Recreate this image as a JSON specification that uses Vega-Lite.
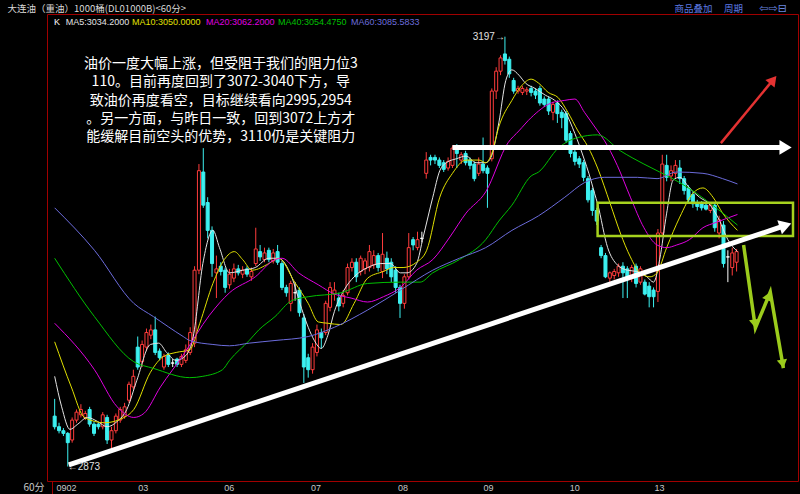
{
"$schema": "https://vega.github.io/schema/vega-lite/v6.json",
"width": 751, "height": 467,
"autosize": "none",
"padding": {"left": 47, "top": 14, "right": 2, "bottom": 13},
"background": "#000000",
"config": {"view": {"stroke": "#a00000", "strokeWidth": 1}},
"datasets": {
"candles": [
{"i":0,"o":2911,"h":2924,"l":2901,"c":2903},{"i":1,"o":2903,"h":2906,"l":2898,"c":2900},{"i":2,"o":2900,"h":2902,"l":2896,"c":2898},{"i":3,"o":2898,"h":2899,"l":2873,"c":2891},{"i":4,"o":2893,"h":2910,"l":2891,"c":2908},
{"i":5,"o":2908,"h":2916,"l":2906,"c":2914},{"i":6,"o":2912,"h":2920,"l":2910,"c":2916},{"i":7,"o":2910,"h":2915,"l":2908,"c":2913},{"i":8,"o":2916,"h":2918,"l":2903,"c":2905},{"i":9,"o":2905,"h":2907,"l":2896,"c":2898},
{"i":10,"o":2905,"h":2906,"l":2901,"c":2903},{"i":11,"o":2903,"h":2914,"l":2901,"c":2912},{"i":12,"o":2910,"h":2912,"l":2890,"c":2893},{"i":13,"o":2893,"h":2903,"l":2886,"c":2900},{"i":14,"o":2900,"h":2913,"l":2898,"c":2911},
{"i":15,"o":2908,"h":2918,"l":2906,"c":2916},{"i":16,"o":2911,"h":2921,"l":2909,"c":2918},{"i":17,"o":2923,"h":2937,"l":2921,"c":2935},{"i":18,"o":2933,"h":2946,"l":2931,"c":2941},{"i":19,"o":2963,"h":2971,"l":2946,"c":2948},
{"i":20,"o":2952,"h":2968,"l":2948,"c":2965},{"i":21,"o":2963,"h":2977,"l":2960,"c":2974},{"i":22,"o":2972,"h":2980,"l":2969,"c":2976},{"i":23,"o":2976,"h":2986,"l":2957,"c":2959},{"i":24,"o":2960,"h":2962,"l":2953,"c":2955},
{"i":25,"o":2948,"h":2958,"l":2946,"c":2956},{"i":26,"o":2957,"h":2959,"l":2948,"c":2950},{"i":27,"o":2951,"h":2954,"l":2948,"c":2951},{"i":28,"o":2954,"h":2955,"l":2948,"c":2950},{"i":29,"o":2950,"h":2958,"l":2948,"c":2956},
{"i":30,"o":2953,"h":2965,"l":2951,"c":2961},{"i":31,"o":2959,"h":2978,"l":2957,"c":2974},{"i":32,"o":2966,"h":3024,"l":2963,"c":3021},{"i":33,"o":3021,"h":3101,"l":3018,"c":3096},{"i":34,"o":3095,"h":3113,"l":3068,"c":3070},
{"i":35,"o":3072,"h":3076,"l":3045,"c":3051},{"i":36,"o":3051,"h":3054,"l":3016,"c":3026},{"i":37,"o":3019,"h":3032,"l":3000,"c":3022},{"i":38,"o":3024,"h":3027,"l":3017,"c":3020},{"i":39,"o":3021,"h":3023,"l":3004,"c":3008},
{"i":40,"o":3010,"h":3022,"l":3007,"c":3018},{"i":41,"o":3015,"h":3026,"l":3012,"c":3022},{"i":42,"o":3022,"h":3025,"l":3017,"c":3019},{"i":43,"o":3018,"h":3024,"l":3015,"c":3021},{"i":44,"o":3022,"h":3024,"l":3016,"c":3018},
{"i":45,"o":3016,"h":3023,"l":3013,"c":3020},{"i":46,"o":3026,"h":3053,"l":3024,"c":3037},{"i":47,"o":3035,"h":3040,"l":3028,"c":3031},{"i":48,"o":3029,"h":3038,"l":3027,"c":3034},{"i":49,"o":3036,"h":3038,"l":3027,"c":3029},
{"i":50,"o":3028,"h":3037,"l":3026,"c":3034},{"i":51,"o":3035,"h":3040,"l":3025,"c":3027},{"i":52,"o":3026,"h":3028,"l":3006,"c":3008},{"i":53,"o":3008,"h":3010,"l":3001,"c":3004},{"i":54,"o":2996,"h":3013,"l":2990,"c":3011},
{"i":55,"o":3004,"h":3012,"l":2998,"c":3004},{"i":56,"o":3006,"h":3008,"l":2986,"c":2989},{"i":57,"o":2985,"h":2988,"l":2936,"c":2948},{"i":58,"o":2955,"h":2958,"l":2940,"c":2946},{"i":59,"o":2946,"h":2966,"l":2943,"c":2963},
{"i":60,"o":2959,"h":2980,"l":2956,"c":2976},{"i":61,"o":2974,"h":2977,"l":2962,"c":2970},{"i":62,"o":2974,"h":2998,"l":2972,"c":2996},{"i":63,"o":2993,"h":3012,"l":2990,"c":3008},{"i":64,"o":3003,"h":3012,"l":2998,"c":3006},
{"i":65,"o":3000,"h":3004,"l":2990,"c":2994},{"i":66,"o":2996,"h":3006,"l":2993,"c":3002},{"i":67,"o":3004,"h":3026,"l":3002,"c":3023},{"i":68,"o":3023,"h":3030,"l":3020,"c":3027},{"i":69,"o":3027,"h":3030,"l":3012,"c":3016},
{"i":70,"o":3020,"h":3032,"l":3017,"c":3030},{"i":71,"o":3022,"h":3030,"l":3018,"c":3028},{"i":72,"o":3023,"h":3040,"l":3020,"c":3035},{"i":73,"o":3025,"h":3036,"l":3022,"c":3032},{"i":74,"o":3032,"h":3034,"l":3020,"c":3023},
{"i":75,"o":3020,"h":3049,"l":3015,"c":3033},{"i":76,"o":3030,"h":3035,"l":3018,"c":3022},{"i":77,"o":3027,"h":3030,"l":3012,"c":3016},{"i":78,"o":3021,"h":3024,"l":3004,"c":3008},{"i":79,"o":3008,"h":3010,"l":2985,"c":2996},
{"i":80,"o":2996,"h":3018,"l":2992,"c":3016},{"i":81,"o":3016,"h":3049,"l":3014,"c":3038},{"i":82,"o":3044,"h":3046,"l":3036,"c":3040},{"i":83,"o":3038,"h":3050,"l":3036,"c":3044},{"i":84,"o":3045,"h":3050,"l":3042,"c":3045},
{"i":85,"o":3094,"h":3110,"l":3090,"c":3104},{"i":86,"o":3106,"h":3108,"l":3100,"c":3104},{"i":87,"o":3106,"h":3108,"l":3101,"c":3104},{"i":88,"o":3104,"h":3106,"l":3098,"c":3100},{"i":89,"o":3102,"h":3104,"l":3095,"c":3097},
{"i":90,"o":3098,"h":3106,"l":3096,"c":3103},{"i":91,"o":3100,"h":3115,"l":3098,"c":3113},{"i":92,"o":3115,"h":3116,"l":3098,"c":3109},{"i":93,"o":3104,"h":3110,"l":3101,"c":3108},{"i":94,"o":3109,"h":3111,"l":3100,"c":3102},
{"i":95,"o":3104,"h":3106,"l":3097,"c":3100},{"i":96,"o":3101,"h":3103,"l":3088,"c":3090},{"i":97,"o":3094,"h":3106,"l":3092,"c":3101},{"i":98,"o":3101,"h":3121,"l":3094,"c":3096},{"i":99,"o":3098,"h":3100,"l":3068,"c":3094},
{"i":100,"o":3105,"h":3158,"l":3103,"c":3156},{"i":101,"o":3156,"h":3174,"l":3150,"c":3171},{"i":102,"o":3171,"h":3183,"l":3168,"c":3181},{"i":103,"o":3184,"h":3197,"l":3176,"c":3179},{"i":104,"o":3180,"h":3182,"l":3166,"c":3169},
{"i":105,"o":3164,"h":3166,"l":3154,"c":3156},{"i":106,"o":3156,"h":3160,"l":3154,"c":3158},{"i":107,"o":3155,"h":3160,"l":3153,"c":3158},{"i":108,"o":3156,"h":3159,"l":3153,"c":3157},{"i":109,"o":3158,"h":3160,"l":3152,"c":3155},
{"i":110,"o":3156,"h":3158,"l":3150,"c":3153},{"i":111,"o":3158,"h":3160,"l":3145,"c":3147},{"i":112,"o":3150,"h":3152,"l":3144,"c":3146},{"i":113,"o":3150,"h":3152,"l":3138,"c":3141},{"i":114,"o":3140,"h":3148,"l":3134,"c":3146},
{"i":115,"o":3147,"h":3149,"l":3132,"c":3139},{"i":116,"o":3140,"h":3142,"l":3128,"c":3136},{"i":117,"o":3139,"h":3141,"l":3117,"c":3119},{"i":118,"o":3124,"h":3126,"l":3106,"c":3109},{"i":119,"o":3110,"h":3112,"l":3100,"c":3103},
{"i":120,"o":3105,"h":3107,"l":3098,"c":3101},{"i":121,"o":3102,"h":3104,"l":3088,"c":3091},{"i":122,"o":3090,"h":3092,"l":3072,"c":3074},{"i":123,"o":3081,"h":3083,"l":3062,"c":3066},{"i":124,"o":3066,"h":3068,"l":3055,"c":3058},
{"i":125,"o":3038,"h":3040,"l":3030,"c":3032},{"i":126,"o":3032,"h":3034,"l":3015,"c":3016},{"i":127,"o":3015,"h":3020,"l":3012,"c":3019},{"i":128,"o":3017,"h":3022,"l":3014,"c":3020},{"i":129,"o":3019,"h":3026,"l":3016,"c":3024},
{"i":130,"o":3024,"h":3027,"l":3000,"c":3019},{"i":131,"o":3022,"h":3024,"l":3000,"c":3016},{"i":132,"o":3016,"h":3025,"l":3012,"c":3023},{"i":133,"o":3024,"h":3026,"l":3008,"c":3011},{"i":134,"o":3012,"h":3024,"l":3010,"c":3022},
{"i":135,"o":3012,"h":3014,"l":3002,"c":3003},{"i":136,"o":3009,"h":3012,"l":2993,"c":3001},{"i":137,"o":3006,"h":3008,"l":2993,"c":3001},{"i":138,"o":3005,"h":3052,"l":2997,"c":3049},{"i":139,"o":3049,"h":3108,"l":3046,"c":3101},
{"i":140,"o":3100,"h":3108,"l":3088,"c":3091},{"i":141,"o":3092,"h":3100,"l":3088,"c":3096},{"i":142,"o":3094,"h":3104,"l":3090,"c":3100},{"i":143,"o":3098,"h":3104,"l":3086,"c":3090},{"i":144,"o":3090,"h":3092,"l":3078,"c":3081},
{"i":145,"o":3083,"h":3085,"l":3072,"c":3074},{"i":146,"o":3078,"h":3080,"l":3068,"c":3071},{"i":147,"o":3072,"h":3074,"l":3066,"c":3069},{"i":148,"o":3071,"h":3073,"l":3066,"c":3068},{"i":149,"o":3070,"h":3072,"l":3066,"c":3067},
{"i":150,"o":3066,"h":3072,"l":3064,"c":3070},{"i":151,"o":3070,"h":3072,"l":3050,"c":3053},{"i":152,"o":3049,"h":3062,"l":3045,"c":3059},{"i":153,"o":3055,"h":3058,"l":3023,"c":3026},{"i":154,"o":3031,"h":3036,"l":3012,"c":3031},
{"i":155,"o":3023,"h":3038,"l":3017,"c":3034},{"i":156,"o":3027,"h":3037,"l":3020,"c":3035}
],
"ma": [
{"ma":"MA5","i":0,"v":2941},{"ma":"MA5","i":1.6,"v":2918},{"ma":"MA5","i":3.5,"v":2901},{"ma":"MA5","i":5.3,"v":2905},{"ma":"MA5","i":7.5,"v":2910},{"ma":"MA5","i":9.8,"v":2907},{"ma":"MA5","i":12,"v":2903},{"ma":"MA5","i":14.3,"v":2907},{"ma":"MA5","i":16.5,"v":2916},{"ma":"MA5","i":18.8,"v":2938},
{"ma":"MA5","i":21.9,"v":2965},{"ma":"MA5","i":23.8,"v":2966},{"ma":"MA5","i":25.6,"v":2959},{"ma":"MA5","i":27.8,"v":2953},{"ma":"MA5","i":30.1,"v":2957},{"ma":"MA5","i":31.7,"v":2971},{"ma":"MA5","i":33.9,"v":3026},{"ma":"MA5","i":36.2,"v":3051},{"ma":"MA5","i":37.7,"v":3038},{"ma":"MA5","i":40,"v":3019},
{"ma":"MA5","i":43,"v":3021},{"ma":"MA5","i":45.9,"v":3023},{"ma":"MA5","i":49,"v":3030},{"ma":"MA5","i":51.2,"v":3030},{"ma":"MA5","i":54.2,"v":3016},{"ma":"MA5","i":56.5,"v":2992},{"ma":"MA5","i":58,"v":2978},{"ma":"MA5","i":59.4,"v":2968},{"ma":"MA5","i":61,"v":2962},{"ma":"MA5","i":62.5,"v":2972},
{"ma":"MA5","i":64,"v":2990},{"ma":"MA5","i":66.2,"v":3006},{"ma":"MA5","i":68.5,"v":3016},{"ma":"MA5","i":71.6,"v":3023},{"ma":"MA5","i":74.6,"v":3026},{"ma":"MA5","i":76.8,"v":3026},{"ma":"MA5","i":79.1,"v":3019},{"ma":"MA5","i":80.6,"v":3019},{"ma":"MA5","i":82.8,"v":3026},{"ma":"MA5","i":84.3,"v":3046},
{"ma":"MA5","i":86.5,"v":3076},{"ma":"MA5","i":88.1,"v":3096},{"ma":"MA5","i":89.6,"v":3102},{"ma":"MA5","i":91.9,"v":3105},{"ma":"MA5","i":94.1,"v":3107},{"ma":"MA5","i":96.4,"v":3102},{"ma":"MA5","i":98.6,"v":3102},{"ma":"MA5","i":99.8,"v":3106},{"ma":"MA5","i":101.6,"v":3132},{"ma":"MA5","i":103.2,"v":3164},
{"ma":"MA5","i":104.6,"v":3172},{"ma":"MA5","i":106.2,"v":3168},{"ma":"MA5","i":107.7,"v":3162},{"ma":"MA5","i":109.9,"v":3158},{"ma":"MA5","i":112.2,"v":3153},{"ma":"MA5","i":114.4,"v":3149},{"ma":"MA5","i":116.7,"v":3141},{"ma":"MA5","i":119,"v":3124},{"ma":"MA5","i":121.2,"v":3104},{"ma":"MA5","i":122.2,"v":3094},
{"ma":"MA5","i":123.5,"v":3079},{"ma":"MA5","i":124.2,"v":3071},{"ma":"MA5","i":126.5,"v":3038},{"ma":"MA5","i":128.7,"v":3025},{"ma":"MA5","i":131,"v":3021},{"ma":"MA5","i":133.2,"v":3020},{"ma":"MA5","i":135.5,"v":3016},{"ma":"MA5","i":137,"v":3012},{"ma":"MA5","i":138.4,"v":3029},{"ma":"MA5","i":140,"v":3064},
{"ma":"MA5","i":141.5,"v":3089},{"ma":"MA5","i":143,"v":3091},{"ma":"MA5","i":145.2,"v":3083},{"ma":"MA5","i":147.5,"v":3076},{"ma":"MA5","i":149.7,"v":3071},{"ma":"MA5","i":152,"v":3059},{"ma":"MA5","i":154,"v":3044},{"ma":"MA5","i":156.2,"v":3035},
{"ma":"MA10","i":0,"v":2967},{"ma":"MA10","i":3.8,"v":2933},{"ma":"MA10","i":6.8,"v":2910},{"ma":"MA10","i":11.4,"v":2906},{"ma":"MA10","i":15.9,"v":2910},{"ma":"MA10","i":18.1,"v":2916},{"ma":"MA10","i":21.9,"v":2944},{"ma":"MA10","i":24.9,"v":2956},{"ma":"MA10","i":27.8,"v":2959},{"ma":"MA10","i":30.9,"v":2961},
{"ma":"MA10","i":33.2,"v":2981},{"ma":"MA10","i":36.2,"v":3011},{"ma":"MA10","i":38.8,"v":3029},{"ma":"MA10","i":41.1,"v":3035},{"ma":"MA10","i":43,"v":3029},{"ma":"MA10","i":45.2,"v":3021},{"ma":"MA10","i":49,"v":3026},{"ma":"MA10","i":51.2,"v":3030},{"ma":"MA10","i":54.9,"v":3012},{"ma":"MA10","i":58,"v":2996},
{"ma":"MA10","i":60.3,"v":2982},{"ma":"MA10","i":62.5,"v":2981},{"ma":"MA10","i":65.5,"v":2980},{"ma":"MA10","i":68.5,"v":2996},{"ma":"MA10","i":71.6,"v":3015},{"ma":"MA10","i":75.2,"v":3020},{"ma":"MA10","i":77.5,"v":3023},{"ma":"MA10","i":79.7,"v":3023},{"ma":"MA10","i":82.8,"v":3027},{"ma":"MA10","i":85.1,"v":3036},
{"ma":"MA10","i":88.1,"v":3076},{"ma":"MA10","i":91,"v":3094},{"ma":"MA10","i":94.1,"v":3104},{"ma":"MA10","i":97.1,"v":3104},{"ma":"MA10","i":98.6,"v":3102},{"ma":"MA10","i":100,"v":3109},{"ma":"MA10","i":101.6,"v":3129},{"ma":"MA10","i":104.6,"v":3149},{"ma":"MA10","i":106.8,"v":3160},{"ma":"MA10","i":109,"v":3165},
{"ma":"MA10","i":110.7,"v":3162},{"ma":"MA10","i":112.9,"v":3155},{"ma":"MA10","i":115.2,"v":3151},{"ma":"MA10","i":117.4,"v":3140},{"ma":"MA10","i":119.7,"v":3126},{"ma":"MA10","i":122,"v":3114},{"ma":"MA10","i":124.2,"v":3098},{"ma":"MA10","i":127.1,"v":3071},{"ma":"MA10","i":129.4,"v":3049},{"ma":"MA10","i":131.7,"v":3031},
{"ma":"MA10","i":133.9,"v":3019},{"ma":"MA10","i":136.2,"v":3016},{"ma":"MA10","i":137.8,"v":3019},{"ma":"MA10","i":140,"v":3038},{"ma":"MA10","i":143,"v":3061},{"ma":"MA10","i":146,"v":3079},{"ma":"MA10","i":148.3,"v":3083},{"ma":"MA10","i":150.6,"v":3076},{"ma":"MA10","i":152.8,"v":3064},{"ma":"MA10","i":156.2,"v":3051},
{"ma":"MA20","i":0,"v":2981},{"ma":"MA20","i":9.1,"v":2946},{"ma":"MA20","i":14.3,"v":2918},{"ma":"MA20","i":18.1,"v":2910},{"ma":"MA20","i":20.4,"v":2913},{"ma":"MA20","i":24.2,"v":2933},{"ma":"MA20","i":29.4,"v":2957},{"ma":"MA20","i":35.4,"v":2987},{"ma":"MA20","i":40,"v":3004},{"ma":"MA20","i":45.9,"v":3016},
{"ma":"MA20","i":50.4,"v":3029},{"ma":"MA20","i":52,"v":3030},{"ma":"MA20","i":55.8,"v":3019},{"ma":"MA20","i":60.3,"v":3010},{"ma":"MA20","i":64,"v":3003},{"ma":"MA20","i":67.8,"v":3000},{"ma":"MA20","i":71.6,"v":2997},{"ma":"MA20","i":75.2,"v":3001},{"ma":"MA20","i":79.1,"v":3008},{"ma":"MA20","i":82.8,"v":3021},
{"ma":"MA20","i":86.5,"v":3029},{"ma":"MA20","i":90.4,"v":3046},{"ma":"MA20","i":94.1,"v":3064},{"ma":"MA20","i":98.6,"v":3080},{"ma":"MA20","i":103.7,"v":3117},{"ma":"MA20","i":106.2,"v":3126},{"ma":"MA20","i":109,"v":3136},{"ma":"MA20","i":113.6,"v":3147},{"ma":"MA20","i":116.7,"v":3149},{"ma":"MA20","i":119,"v":3150},
{"ma":"MA20","i":121.2,"v":3140},{"ma":"MA20","i":124.2,"v":3126},{"ma":"MA20","i":125.7,"v":3119},{"ma":"MA20","i":128.7,"v":3100},{"ma":"MA20","i":131.7,"v":3076},{"ma":"MA20","i":134.8,"v":3053},{"ma":"MA20","i":137.8,"v":3040},{"ma":"MA20","i":140,"v":3038},{"ma":"MA20","i":142.3,"v":3040},{"ma":"MA20","i":145.2,"v":3044},
{"ma":"MA20","i":148.3,"v":3053},{"ma":"MA20","i":151.3,"v":3057},{"ma":"MA20","i":156.2,"v":3063},
{"ma":"MA40","i":0,"v":3030},{"ma":"MA40","i":9.1,"v":2986},{"ma":"MA40","i":18.1,"v":2952},{"ma":"MA40","i":22.6,"v":2947},{"ma":"MA40","i":30.9,"v":2940},{"ma":"MA40","i":33.9,"v":2941},{"ma":"MA40","i":38.4,"v":2946},{"ma":"MA40","i":40,"v":2953},{"ma":"MA40","i":44.5,"v":2968},{"ma":"MA40","i":46.7,"v":2976},
{"ma":"MA40","i":50.4,"v":2986},{"ma":"MA40","i":54.2,"v":2998},{"ma":"MA40","i":58,"v":3001},{"ma":"MA40","i":65.5,"v":3004},{"ma":"MA40","i":71.6,"v":3011},{"ma":"MA40","i":79.1,"v":3012},{"ma":"MA40","i":83.6,"v":3012},{"ma":"MA40","i":86.5,"v":3019},{"ma":"MA40","i":92.6,"v":3029},{"ma":"MA40","i":98.6,"v":3044},
{"ma":"MA40","i":101.6,"v":3058},{"ma":"MA40","i":104.6,"v":3070},{"ma":"MA40","i":109,"v":3092},{"ma":"MA40","i":110.7,"v":3095},{"ma":"MA40","i":115.2,"v":3113},{"ma":"MA40","i":119.7,"v":3121},{"ma":"MA40","i":124.2,"v":3123},{"ma":"MA40","i":129.4,"v":3111},{"ma":"MA40","i":134.8,"v":3101},{"ma":"MA40","i":138.4,"v":3095},
{"ma":"MA40","i":143,"v":3087},{"ma":"MA40","i":146.8,"v":3079},{"ma":"MA40","i":151.3,"v":3068},{"ma":"MA40","i":156.2,"v":3055},
{"ma":"MA60","i":0,"v":3068},{"ma":"MA60","i":9.1,"v":3036},{"ma":"MA60","i":18.1,"v":2996},{"ma":"MA60","i":22.6,"v":2986},{"ma":"MA60","i":29.4,"v":2971},{"ma":"MA60","i":30.9,"v":2968},{"ma":"MA60","i":36.2,"v":2965},{"ma":"MA60","i":40,"v":2964},{"ma":"MA60","i":44.5,"v":2966},{"ma":"MA60","i":50.4,"v":2968},
{"ma":"MA60","i":58,"v":2971},{"ma":"MA60","i":64,"v":2978},{"ma":"MA60","i":71.6,"v":2991},{"ma":"MA60","i":79.1,"v":3006},{"ma":"MA60","i":86.5,"v":3021},{"ma":"MA60","i":92.6,"v":3030},{"ma":"MA60","i":98.6,"v":3038},{"ma":"MA60","i":104.6,"v":3051},{"ma":"MA60","i":110.7,"v":3062},{"ma":"MA60","i":116.7,"v":3076},
{"ma":"MA60","i":121.2,"v":3087},{"ma":"MA60","i":125.7,"v":3091},{"ma":"MA60","i":133.3,"v":3091},{"ma":"MA60","i":137.8,"v":3090},{"ma":"MA60","i":142.3,"v":3095},{"ma":"MA60","i":148.3,"v":3094},{"ma":"MA60","i":152.8,"v":3090},{"ma":"MA60","i":156.2,"v":3086}
],
"header": [
{"ma":"K","label":"K","i":-0.16,"v":3208},
{"ma":"MA5","label":"MA5:3034.2000","i":2.55,"v":3208},
{"ma":"MA10","label":"MA10:3050.0000","i":17.7,"v":3208},
{"ma":"MA20","label":"MA20:3062.2000","i":34.6,"v":3208},
{"ma":"MA40","label":"MA40:3054.4750","i":51.1,"v":3208},
{"ma":"MA60","label":"MA60:3085.5833","i":67.8,"v":3208}
]
},
"encoding": {
"x": {"field": "i", "type": "quantitative",
  "scale": {"domain": [-0.61, 168.9], "nice": false, "zero": false},
  "axis": {"values": [-0.61, 0.3, 19, 38.7, 58.5, 78.4, 98, 117.7, 137.1],
    "labelExpr": "datum.value < 0 ? '' : datum.value < 1 ? '0902' : datum.value < 20 ? '03' : datum.value < 40 ? '06' : datum.value < 60 ? '07' : datum.value < 80 ? '08' : datum.value < 100 ? '09' : datum.value < 120 ? '10' : '13'",
    "grid": false, "domain": false, "ticks": true, "tickSize": 13,
    "tickColor": {"condition": {"test": "datum.value < 0", "value": "#a00000"}, "value": "transparent"},
    "labelColor": "#c8c8c8", "labelFontSize": 9, "labelFont": "Liberation Sans", "labelAlign": "left", "labelBaseline": "middle", "labelPadding": -7,
    "labelFlush": false, "labelOverlap": false, "labelBound": false,
    "title": "60分", "titleColor": "#c8c8c8", "titleFontSize": 10, "titleFont": "Noto Sans CJK SC", "titleFontWeight": "normal",
    "titleX": -3, "titleY": 6, "titleAlign": "right", "titleBaseline": "middle", "titleAngle": 0}}
},
"layer": [
{"data": {"name": "candles"}, "mark": {"type": "rule", "strokeWidth": 1},
 "encoding": {
  "y": {"field": "l", "type": "quantitative", "scale": {"domain": [2862.1, 3214.1], "nice": false, "zero": false},
    "axis": {"values": [2900, 2950, 3000, 3050, 3100, 3150, 3200], "title": null, "grid": true, "gridColor": "#640000", "gridWidth": 1, "domain": false,
      "tickColor": "#a00000", "tickSize": 3, "labelColor": "#c8c8c8", "labelFontSize": 9.5, "labelFont": "Liberation Sans", "labelPadding": 1}},
  "y2": {"field": "h"},
  "stroke": {"condition": [{"test": "datum.c > datum.o", "value": "#ff3c3c"}, {"test": "datum.c < datum.o", "value": "#3cf0f0"}], "value": "#ffffff"}
 }},
{"data": {"name": "candles"}, "mark": {"type": "bar", "width": 3, "strokeWidth": 1},
 "encoding": {
  "y": {"field": "o", "type": "quantitative", "scale": {"domain": [2862.1, 3214.1], "nice": false, "zero": false}, "axis": null},
  "y2": {"field": "c"},
  "fill": {"condition": [{"test": "datum.c > datum.o", "value": "#000000"}, {"test": "datum.c < datum.o", "value": "#3cf0f0"}], "value": "#ffffff"},
  "stroke": {"condition": [{"test": "datum.c > datum.o", "value": "#ff3c3c"}, {"test": "datum.c < datum.o", "value": "#3cf0f0"}], "value": "#ffffff"}
 }},
{"data": {"name": "ma"}, "mark": {"type": "line", "strokeWidth": 1, "interpolate": "monotone"},
 "encoding": {
  "y": {"field": "v", "type": "quantitative", "scale": {"domain": [2862.1, 3214.1], "nice": false, "zero": false}, "axis": null},
  "color": {"field": "ma", "type": "nominal", "legend": null,
    "scale": {"domain": ["K", "MA5", "MA10", "MA20", "MA40", "MA60"], "range": ["#ffffff", "#e4e4e4", "#e0e000", "#e000e0", "#00c000", "#6c6cdc"]}}
 }},
{"data": {"values": [{"i": 124.2, "i2": 168.9, "v": 3071.8, "v2": 3046.7}]},
 "mark": {"type": "rect", "fill": "transparent", "stroke": "#a6d21e", "strokeWidth": 2.5},
 "encoding": {
  "x2": {"field": "i2"},
  "y": {"field": "v", "type": "quantitative", "scale": {"domain": [2862.1, 3214.1], "nice": false, "zero": false}, "axis": null},
  "y2": {"field": "v2"}
 }},
{"data": {"values": [{"id": "h", "i": 91.0, "v": 3113.5}, {"id": "h", "i": 167.2, "v": 3113.5}, {"id": "d", "i": 3.23, "v": 2874.2}, {"id": "d", "i": 167.0, "v": 3054.5}]},
 "mark": {"type": "line", "color": "#ffffff", "strokeWidth": 5, "strokeCap": "butt"},
 "encoding": {
  "y": {"field": "v", "type": "quantitative", "scale": {"domain": [2862.1, 3214.1], "nice": false, "zero": false}, "axis": null},
  "detail": {"field": "id"}
 }},
{"data": {"values": [{"i": 168.6, "v": 3113.5}]},
 "mark": {"type": "point", "shape": "M0,0L-1,-0.6L-1,0.6Z", "filled": true, "color": "#ffffff", "opacity": 1, "strokeWidth": 0, "size": 600, "angle": 0},
 "encoding": {"y": {"field": "v", "type": "quantitative", "scale": {"domain": [2862.1, 3214.1], "nice": false, "zero": false}, "axis": null}}},
{"data": {"values": [{"i": 168.5, "v": 3056.2}]},
 "mark": {"type": "point", "shape": "M0,0L-1,-0.6L-1,0.6Z", "filled": true, "color": "#ffffff", "opacity": 1, "strokeWidth": 0, "size": 600, "angle": -18.3},
 "encoding": {"y": {"field": "v", "type": "quantitative", "scale": {"domain": [2862.1, 3214.1], "nice": false, "zero": false}, "axis": null}}},
{"data": {"values": [{"i": 152.4, "v": 3116.8}, {"i": 164.2, "v": 3163.9}]},
 "mark": {"type": "line", "color": "#e43232", "strokeWidth": 2.5, "strokeCap": "butt"},
 "encoding": {"y": {"field": "v", "type": "quantitative", "scale": {"domain": [2862.1, 3214.1], "nice": false, "zero": false}, "axis": null}}},
{"data": {"values": [{"i": 165.1, "v": 3167.3}]},
 "mark": {"type": "point", "shape": "M0,0L-1,-0.6L-1,0.6Z", "filled": true, "color": "#e43232", "opacity": 1, "strokeWidth": 0, "size": 400, "angle": -50.1},
 "encoding": {"y": {"field": "v", "type": "quantitative", "scale": {"domain": [2862.1, 3214.1], "nice": false, "zero": false}, "axis": null}}},
{"data": {"values": [{"i": 157.6, "v": 3040.0}, {"i": 160.3, "v": 2977.4}, {"i": 163.7, "v": 3004.5}, {"i": 166.7, "v": 2947.2}]},
 "mark": {"type": "line", "color": "#9ccc1c", "strokeWidth": 3.5, "strokeJoin": "miter"},
 "encoding": {"y": {"field": "v", "type": "quantitative", "scale": {"domain": [2862.1, 3214.1], "nice": false, "zero": false}, "axis": null}}},
{"data": {"values": [{"i": 160.3, "v": 2977.4}]},
 "mark": {"type": "point", "shape": "M0,0L-1,-0.6L-1,0.6Z", "filled": true, "color": "#9ccc1c", "opacity": 1, "strokeWidth": 0, "size": 300, "angle": 81.8},
 "encoding": {"y": {"field": "v", "type": "quantitative", "scale": {"domain": [2862.1, 3214.1], "nice": false, "zero": false}, "axis": null}}},
{"data": {"values": [{"i": 163.7, "v": 3004.5}]},
 "mark": {"type": "point", "shape": "M0,0L-1,-0.6L-1,0.6Z", "filled": true, "color": "#9ccc1c", "opacity": 1, "strokeWidth": 0, "size": 300, "angle": -67.4},
 "encoding": {"y": {"field": "v", "type": "quantitative", "scale": {"domain": [2862.1, 3214.1], "nice": false, "zero": false}, "axis": null}}},
{"data": {"values": [{"i": 166.7, "v": 2947.2}]},
 "mark": {"type": "point", "shape": "M0,0L-1,-0.6L-1,0.6Z", "filled": true, "color": "#9ccc1c", "opacity": 1, "strokeWidth": 0, "size": 300, "angle": 80.3},
 "encoding": {"y": {"field": "v", "type": "quantitative", "scale": {"domain": [2862.1, 3214.1], "nice": false, "zero": false}, "axis": null}}},
{"data": {"values": [{"text": "油价一度大幅上涨，但受阻于我们的阻力位3\n110。目前再度回到了3072-3040下方，导\n致油价再度看空，目标继续看向2995,2954\n。另一方面，与昨日一致，回到3072上方才\n能缓解目前空头的优势，3110仍是关键阻力", "i": 38.0, "v": 3176.4}]},
 "mark": {"type": "text", "align": "center", "baseline": "middle", "lineBreak": "\n", "lineHeight": 18.25, "fontSize": 14, "font": "Noto Sans CJK SC", "color": "#ffffff"},
 "encoding": {"y": {"field": "v", "type": "quantitative", "scale": {"domain": [2862.1, 3214.1], "nice": false, "zero": false}, "axis": null}, "text": {"field": "text"}}},
{"data": {"values": [{"t": "3197→", "i": 103, "v": 3196.8}]},
 "mark": {"type": "text", "align": "right", "baseline": "middle", "fontSize": 10, "font": "Liberation Sans", "color": "#e0e0e0"},
 "encoding": {"y": {"field": "v", "type": "quantitative", "scale": {"domain": [2862.1, 3214.1], "nice": false, "zero": false}, "axis": null}, "text": {"field": "t"}}},
{"data": {"values": [{"t": "←2873", "i": 3, "v": 2873}]},
 "mark": {"type": "text", "align": "left", "baseline": "middle", "fontSize": 10, "font": "Liberation Sans", "color": "#e0e0e0"},
 "encoding": {"y": {"field": "v", "type": "quantitative", "scale": {"domain": [2862.1, 3214.1], "nice": false, "zero": false}, "axis": null}, "text": {"field": "t"}}},
{"data": {"name": "header"},
 "mark": {"type": "text", "align": "left", "baseline": "middle", "fontSize": 9, "font": "Liberation Sans"},
 "encoding": {"y": {"field": "v", "type": "quantitative", "scale": {"domain": [2862.1, 3214.1], "nice": false, "zero": false}, "axis": null}, "text": {"field": "label"},
  "color": {"field": "ma", "type": "nominal", "legend": null,
    "scale": {"domain": ["K", "MA5", "MA10", "MA20", "MA40", "MA60"], "range": ["#ffffff", "#e4e4e4", "#e0e000", "#e000e0", "#00c000", "#6c6cdc"]}}}},
{"data": {"values": [{"t": "大连油（重油）1000桶(DL01000B)<60分>", "i": -10.77, "v": 3218.2}]},
 "mark": {"type": "text", "align": "left", "baseline": "middle", "fontSize": 9.5, "font": "Noto Sans CJK SC", "color": "#d8d8d8"},
 "encoding": {"y": {"field": "v", "type": "quantitative", "scale": {"domain": [2862.1, 3214.1], "nice": false, "zero": false}, "axis": null}, "text": {"field": "t"}}},
{"data": {"values": [{"t": "商品叠加", "i": 141.8, "v": 3218.2}, {"t": "周期", "i": 153.1, "v": 3218.2}]},
 "mark": {"type": "text", "align": "left", "baseline": "middle", "fontSize": 9.5, "font": "Noto Sans CJK SC", "color": "#5a78e0"},
 "encoding": {"y": {"field": "v", "type": "quantitative", "scale": {"domain": [2862.1, 3214.1], "nice": false, "zero": false}, "axis": null}, "text": {"field": "t"}}},
{"data": {"values": [{"t": "⇦⇨⊟", "i": 161.2, "v": 3218.2}]},
 "mark": {"type": "text", "align": "left", "baseline": "middle", "fontSize": 11, "font": "DejaVu Sans", "color": "#6a88e0"},
 "encoding": {"y": {"field": "v", "type": "quantitative", "scale": {"domain": [2862.1, 3214.1], "nice": false, "zero": false}, "axis": null}, "text": {"field": "t"}}}
]
}
